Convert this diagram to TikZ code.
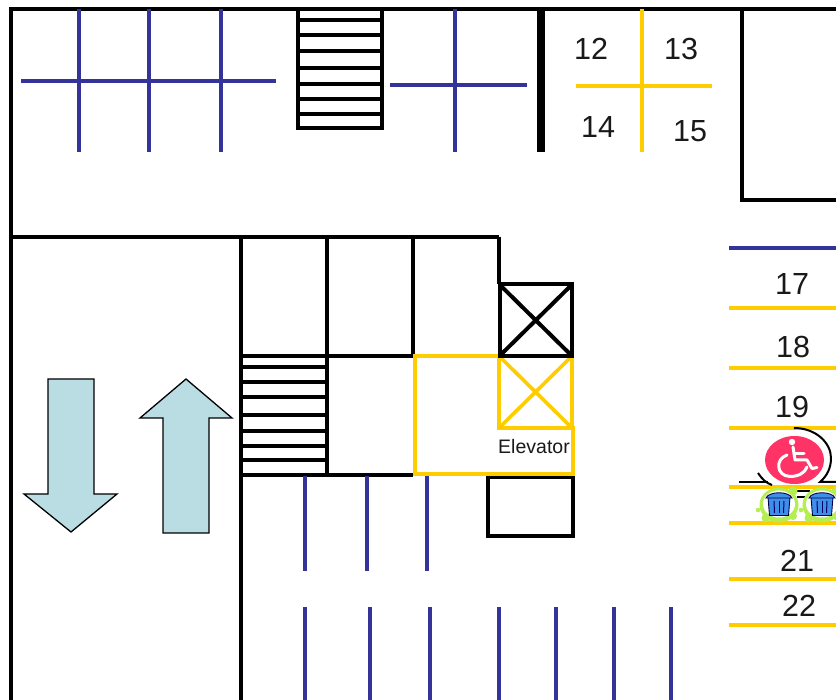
\documentclass[tikz,border=0pt]{standalone}
\usepackage{fontspec}
\setmainfont{Liberation Sans}
\definecolor{wallblue}{HTML}{333399}
\definecolor{lotyellow}{HTML}{FFCC00}
\definecolor{arrowfill}{HTML}{B9DDE3}
\definecolor{signred}{HTML}{FF3366}
\definecolor{canblue}{HTML}{3F8FE8}
\definecolor{blobgreen}{HTML}{B5EE50}
\tikzset{
  wall/.style={draw=black,line width=4pt,line join=miter},
  thinwall/.style={draw=black,line width=3.2pt},
  bay/.style={draw=wallblue,line width=3.8pt},
  lot/.style={draw=lotyellow,line width=4pt,line join=miter},
  flowarrow/.style={draw=black,line width=1.3pt,fill=arrowfill},
  num/.style={font=\fontsize{30.5}{30}\selectfont,inner sep=0pt,text=black!90},
  smalllabel/.style={font=\fontsize{19.5}{20}\selectfont,inner sep=0pt,text=black!90},
  can/.style={fill=canblue,draw=black!70!blue,line width=.9pt},
  chairline/.style={draw=white,line width=3pt,line join=round,line cap=round}
}
\begin{document}
\begin{tikzpicture}[x=1pt,y=-1pt]
\useasboundingbox (0,0) rectangle (836,700);
\fill[white] (0,0) rectangle (836,700);
% outer walls
\draw[wall] (836,9.5) -- (11,9.5) -- (11,700);
\draw[wall] (11,237) -- (499,237);
\draw[wall] (241,237) -- (241,700);
\draw[wall] (327,237) -- (327,475);
\draw[wall] (413,237) -- (413,356);
\draw[wall] (499,237) -- (499,284);
\draw[wall] (241,356) -- (413,356);
\draw[wall] (241,475) -- (413,475);
\draw[wall] (836,200) -- (742,200) -- (742,9.5);
\draw[draw=black,line width=7.5pt] (541,9) -- (541,152);
% upper stairs
\draw[wall] (297.5,9.5) rectangle (381.5,128.5);
\foreach \y in {20,35,51,68,84,99,114} \draw[thinwall] (297,\y) -- (382,\y);
% lower stairs
\foreach \y in {367,382,397,415,431,446,460} \draw[thinwall] (241,\y) -- (327,\y);
% lift boxes
\draw[wall] (487.5,477) rectangle (573,536.5);
% elevator in yellow
\draw[lot] (499,356) -- (414.5,356) -- (414.5,474.5) -- (573,474.5) -- (573,428) -- (497,428);
\draw[lot] (499,356) -- (499,428) (572,356) -- (572,428);
\draw[lot,line width=3.6pt] (499,356) -- (572,428) (572,356) -- (499,428);
\draw[wall] (499.5,284.5) rectangle (572,356);
\draw[wall] (499.5,284.5) -- (572,356) (572,284.5) -- (499.5,356);
% blue bays
\draw[bay] (21,81) -- (276,81);
\foreach \x in {79,149,221} \draw[bay] (\x,9) -- (\x,152);
\draw[bay] (390,85) -- (527,85);
\draw[bay] (455,9) -- (455,152);
\draw[bay] (729,248) -- (836,248);
\foreach \x in {305,367,427} \draw[bay] (\x,476) -- (\x,571);
\foreach \x in {305,370,430,499,556,614,671} \draw[bay] (\x,607) -- (\x,700);
% yellow bays
\draw[lot] (642,9) -- (642,152);
\draw[lot] (576,86) -- (712,86);
\foreach \y in {308,368,428,487,523,579,625} \draw[lot] (729,\y) -- (836,\y);
% direction arrows
\draw[flowarrow] (48,379) -- (94,379) -- (94,494) -- (117,494) -- (71,532) -- (24,494) -- (48,494) -- cycle;
\draw[flowarrow] (186,379) -- (232,418) -- (209,418) -- (209,533) -- (163,533) -- (163,418) -- (140,418) -- cycle;
% labels
\node[num] (n12) at (591,49) {12};
\node[num] (n13) at (681,49) {13};
\node[num] (n14) at (598,127) {14};
\node[num] (n15) at (690,131) {15};
\node[num] (n17) at (792,284) {17};
\node[num] (n18) at (793,347) {18};
\node[num] (n19) at (792,407) {19};
\node[num] (n21) at (797,561) {21};
\node[num] (n22) at (799,606) {22};
\node[smalllabel] (elev) at (534,447) {Elevator};
% accessible bay door swing
\draw[black,line width=2pt] (739,482) -- (768,482);
\draw[black,line width=2pt] (758,473) .. controls (762,479) and (766,483) .. (772,485);
\draw[black,line width=2pt] (794,428) .. controls (816,428) and (831,443) .. (831,458) .. controls (831,468) and (827,476) .. (820,482) -- (836,482);
\draw[black,line width=2.4pt] (797,491) -- (810,491) (797,497) -- (808,497);
% wheelchair sign
\fill[signred] (794.5,460) ellipse (29.5pt and 24pt);
\fill[white] (792,442) circle (3.2pt);
\draw[chairline] (793,447) -- (795,460) -- (807,460) -- (812,468.5) -- (817,467.5);
\draw[chairline] (794,453.5) -- (804,453.5);
\draw[chairline] (787,455) .. controls (775,459) and (776,476) .. (790,476.5) .. controls (798,476.5) and (805,473) .. (807,467);
% bins
\foreach \cx in {779,822}{
  \fill[blobgreen] (\cx,505) ellipse (19.5pt and 17.5pt);
  \fill[blobgreen] (\cx-21,510) circle (2.3pt) (\cx-13,518) circle (4.5pt) (\cx+14,491) circle (4.5pt) (\cx+14,516) circle (4pt);
  \fill[white] (\cx,504) ellipse (16pt and 13.5pt);
  \draw[can] (\cx-11,497) -- (\cx+11,497) -- (\cx+9.5,515.5) -- (\cx-9.5,515.5) -- cycle;
  \draw[can] (\cx-13,498) .. controls (\cx-10,491) and (\cx+10,491) .. (\cx+13,498) -- cycle;
  \foreach \d in {-5,0,5} \draw[black!60!blue,line width=1pt] (\cx+\d,501) -- (\cx+.9*\d,513);
}
\end{tikzpicture}
\end{document}
